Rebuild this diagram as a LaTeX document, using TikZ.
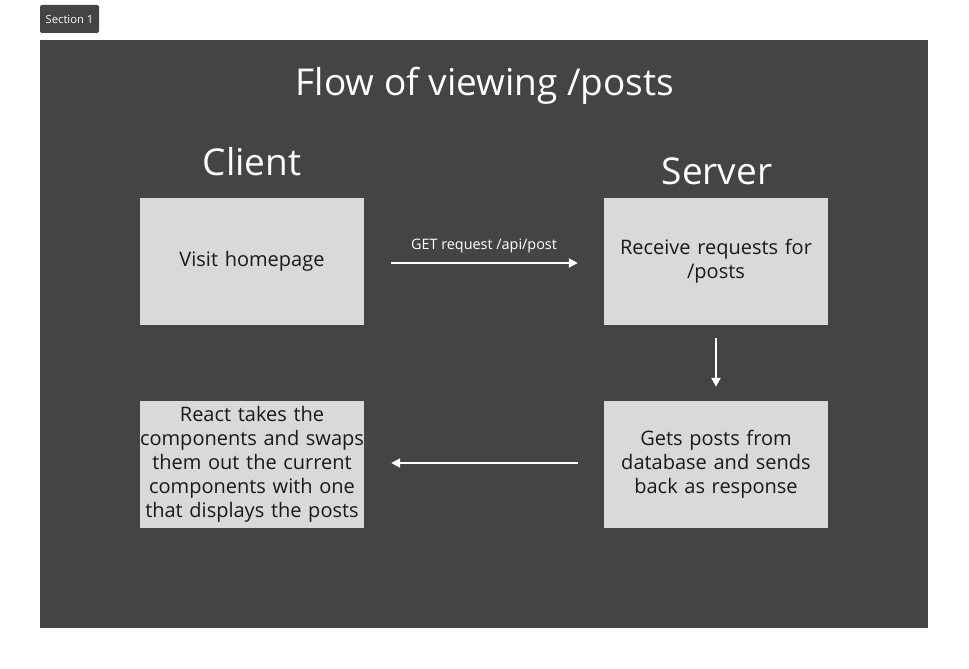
\documentclass[tikz,border=0pt]{standalone}
\usepackage{fontspec}
\setmainfont{Open Sans}
\usepackage{tikz}
\usetikzlibrary{arrows.meta}
\definecolor{panel}{HTML}{444444}
\definecolor{boxfill}{HTML}{D9D9D9}

\begin{document}
\begin{tikzpicture}[x=1pt,y=-1pt,
  step box/.style = {fill=boxfill, minimum width=224pt, minimum height=127pt, text width=224pt, align=center, text=black!90, font=\fontsize{20}{24}\selectfont, inner sep=0pt},
  head/.style = {text=white, font=\fontsize{37}{42}\selectfont},
  flow/.style = {white, line width=2pt, -{Triangle[length=9pt,width=9pt]}}]
\useasboundingbox (0,0) rectangle (969,669);
\fill[white] (0,0) rectangle (969,669);
\node[fill=panel, rounded corners=2pt, minimum width=59pt, minimum height=28pt, text=white, font=\fontsize{11.2}{13}\selectfont, inner sep=0pt] (section) at (69.5,19) {Section 1};
\fill[panel] (40,40) rectangle (928,628);
\node[head] (title) at (485,86) {Flow of viewing /posts};
\node[head] (client) at (252,162) {Client};
\node[head] (server) at (717,171) {Server};
\node[step box] (1) at (252,261.5) {Visit homepage};
\node[step box] (2) at (716,261.5) {Receive requests for\\/posts};
\node[step box] (3) at (716,464.5) {Gets posts from\\database and sends\\back as response};
\node[step box] (4) at (252,464.5) {React takes the\\components and swaps\\them out the current\\components with one\\that displays the posts};
\draw[flow, shorten <=27pt, shorten >=26pt] (1.east |- 0,263) -- node[above=6pt, text=white, font=\fontsize{14.4}{16}\selectfont] {GET request /api/post} (2.west |- 0,263);
\draw[flow, shorten <=13pt, shorten >=14pt] (2) -- (3);
\draw[flow, shorten <=26pt, shorten >=27pt] (3.west |- 0,463) -- (4.east |- 0,463);
\end{tikzpicture}
\end{document}
